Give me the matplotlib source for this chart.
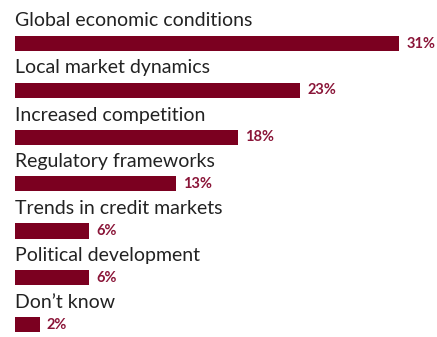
import matplotlib.pyplot as plt

categories = [
    "Global economic conditions",
    "Local market dynamics",
    "Increased competition",
    "Regulatory frameworks",
    "Trends in credit markets",
    "Political development",
    "Don\u2019t know",
]
values = [31, 23, 18, 13, 6, 6, 2]

bar_color = "#7b0020"
value_color = "#8a1538"
text_color = "#222222"

W, H = 437, 337
px_per_pct = 12.4
left_px = 15
row_px = 47
first_center_px = 43

fig = plt.figure(figsize=(W / 100, H / 100), dpi=100)
ax = fig.add_axes([0, 0, 1, 1])
ax.set_xlim(-left_px / px_per_pct, (W - left_px) / px_per_pct)
ax.set_ylim((H - first_center_px) / row_px, -first_center_px / row_px)
ax.axis("off")

rows = range(len(categories))
ax.barh(list(rows), values, height=15 / row_px, color=bar_color, left=0)

for i, (cat, val) in enumerate(zip(categories, values)):
    # category name sits above its bar
    ax.text(0, i - 16.5 / row_px, cat, ha="left", va="baseline",
            fontsize=14, color=text_color, family="Lato")
    # value label just right of the bar end
    ax.text(val + 7 / px_per_pct, i + 0.5 / row_px, f"{val}%", ha="left",
            va="center", fontsize=10.5, fontweight="bold", color=value_color,
            family="Lato")

fig.savefig("out.png", dpi=100)
